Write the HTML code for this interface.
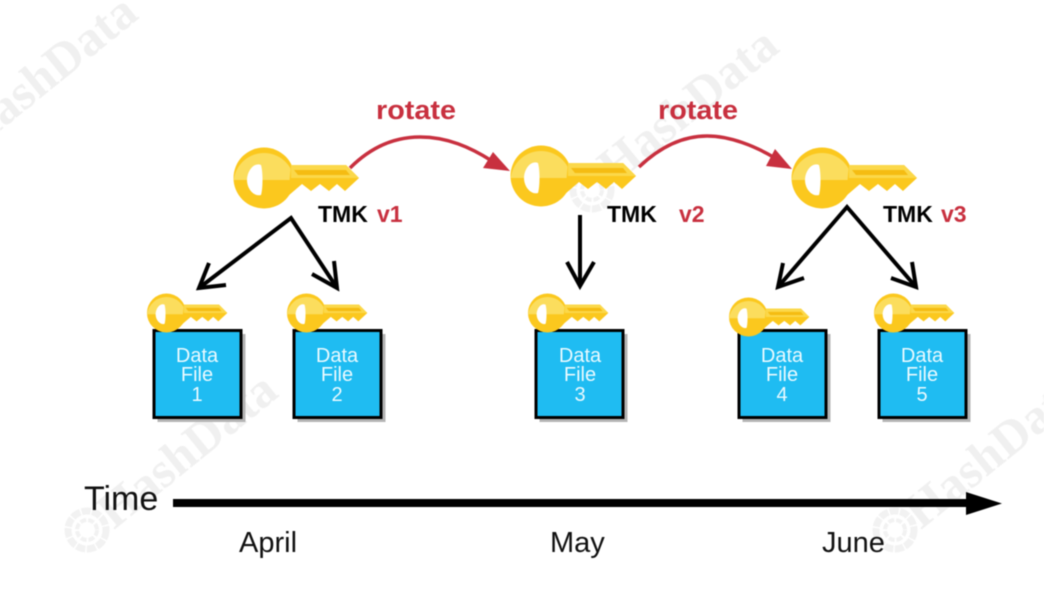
<!DOCTYPE html>
<html><head><meta charset="utf-8"><style>
html,body{margin:0;padding:0;background:#fff}
svg{display:block;filter:blur(.55px)}
text{font-family:"Liberation Sans",sans-serif}
.wm{font-family:"Liberation Serif",serif;font-weight:bold;font-size:50px;fill:#f0f0f0}
.dt{font-size:20px;fill:#eafaff;text-anchor:middle}
.tm{font-size:23px;font-weight:bold;fill:#000}
.rd{font-weight:bold;fill:#c8303f}
.mo{font-size:29px;fill:#111}
</style></head><body>
<svg width="1044" height="608" viewBox="0 0 1044 608" xmlns="http://www.w3.org/2000/svg">
<defs>
<g id="logo" fill="none" stroke="#f2f2f2">
<circle r="19" stroke-width="7" stroke-dasharray="9 1.5"/>
<circle r="10" stroke-width="4" stroke-dasharray="6 2"/>
</g>
<g id="key">
<circle r="30.500" cx="0" cy="0" fill="#fbc81e"/>
<path d="M-30.300 2A30.500 30.500 0 0 1 30.300 2Z" fill="#fbdd5d"/>
<path d="M27 -13H82L95 0L81 13L73 6L65 13L56 6L47 13L38 6L24 18Z" fill="#fbc81e"/>
<path d="M27 -13H82L95 0H27Z" fill="#fbd84a"/>
<path d="M30 -8H82L86 -3H34Z" fill="#f5bc12"/>
<path d="M-3 -13C-10 -16 -17 -7 -17 2C-17 11 -10 19 -3 17C-1 10 -1 -6 -3 -13Z" fill="#fff"/>
</g>
<g id="file"><rect x="5" y="5" width="88" height="88" fill="#b4b4b4"/><rect x="1.500" y="1.500" width="87" height="87" fill="#1fbcf2" stroke="#000" stroke-width="3"/></g>
</defs>

<g>
<text class="wm" transform="translate(-26,152) rotate(-39)">HashData</text>
<text class="wm" transform="translate(615,185) rotate(-39)">HashData</text>
<text class="wm" transform="translate(114,530) rotate(-39)">HashData</text>
<text class="wm" transform="translate(921,530) rotate(-39)">HashData</text>
<use href="#logo" x="87" y="530"/><use href="#logo" x="895" y="530"/><use href="#logo" x="592" y="190"/>
</g>

<use href="#file" x="152.500" y="329"/>
<use href="#file" x="292.500" y="329"/>
<use href="#file" x="534.500" y="329"/>
<use href="#file" x="737.500" y="329"/>
<use href="#file" x="877.500" y="329"/>

<use href="#key" transform="translate(264,178)"/>
<use href="#key" transform="translate(541,176) scale(1 1)"/>
<use href="#key" transform="translate(822,178)"/>
<use href="#key" transform="translate(166.500,313) scale(.64)"/>
<use href="#key" transform="translate(306.500,313) scale(.64)"/>
<use href="#key" transform="translate(547.500,313) scale(.64)"/>
<use href="#key" transform="translate(748.500,317) scale(.64)"/>
<use href="#key" transform="translate(893.500,313) scale(.64)"/>

<g>
<text class="dt" x="197" y="362">Data</text><text class="dt" x="197" y="381">File</text><text class="dt" x="197" y="401">1</text>
<text class="dt" x="337" y="362">Data</text><text class="dt" x="337" y="381">File</text><text class="dt" x="337" y="401">2</text>
<text class="dt" x="580" y="362">Data</text><text class="dt" x="580" y="381">File</text><text class="dt" x="580" y="401">3</text>
<text class="dt" x="782" y="362">Data</text><text class="dt" x="782" y="381">File</text><text class="dt" x="782" y="401">4</text>
<text class="dt" x="922" y="362">Data</text><text class="dt" x="922" y="381">File</text><text class="dt" x="922" y="401">5</text>
</g>

<g fill="none" stroke="#c8303f" stroke-width="3.500">
<path d="M350 168C372 146 395 137 420 137C447 137 470 147 492 161"/>
<path d="M639 167C660 147 682 136 707 136C730 136 755 146 775 158"/>
</g>
<path d="M510 171L483 168L493 152Z" fill="#c8303f"/>
<path d="M792 169L766 166L775 149Z" fill="#c8303f"/>

<g fill="none" stroke="#000" stroke-width="4">
<path d="M199 288L291 218L337 288"/>
<path d="M209 263L199 288L226 285"/>
<path d="M334 261L337 288L312 274"/>
<path d="M580 215V286M567 262L580 286L594 262"/>
<path d="M778 287L847 207L916 287"/>
<path d="M783 263L778 287L804 278"/>
<path d="M912 262L916 287L891 278"/>
</g>

<text class="rd" x="376" y="119" font-size="27" textLength="80" lengthAdjust="spacingAndGlyphs">rotate</text>
<text class="rd" x="658" y="119" font-size="27" textLength="80" lengthAdjust="spacingAndGlyphs">rotate</text>
<text class="tm" x="318" y="222">TMK</text><text class="rd" x="377" y="222" font-size="23">v1</text>
<text class="tm" x="607" y="222">TMK</text><text class="rd" x="679" y="222" font-size="23">v2</text>
<text class="tm" x="883" y="222">TMK</text><text class="rd" x="941" y="222" font-size="23">v3</text>

<rect x="173" y="499" width="795" height="8" fill="#000"/>
<path d="M966 492L1002 503.500L966 515Z" fill="#000"/>
<text x="84" y="510" font-size="34" fill="#111">Time</text>
<text class="mo" x="239" y="552">April</text>
<text class="mo" x="550" y="552">May</text>
<text class="mo" x="822" y="552">June</text>
</svg>
</body></html>
